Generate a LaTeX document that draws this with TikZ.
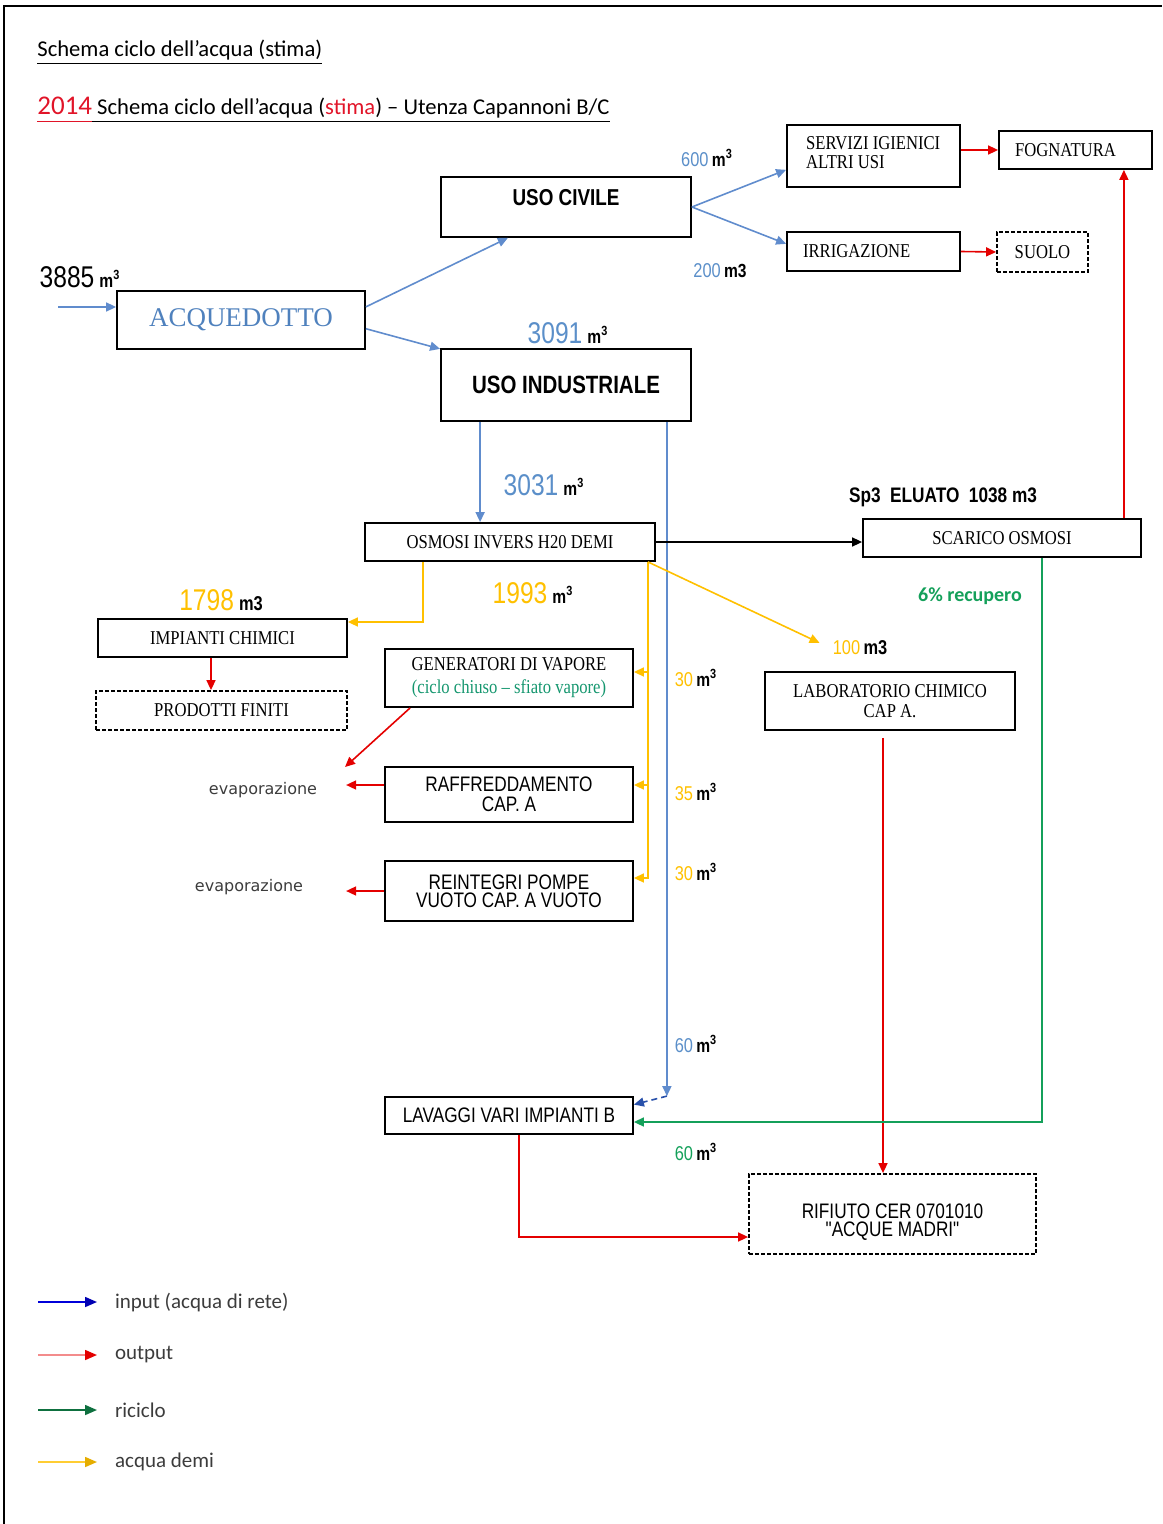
\documentclass[tikz,border=0pt]{standalone}
\usepackage{fontspec}
\setmainfont{Liberation Serif}
\newfontfamily\calib{Carlito}
\newfontfamily\narrow[FakeStretch=0.82]{Liberation Sans}
\newfontfamily\serifbox[FakeStretch=0.85]{Liberation Serif}
\newfontfamily\dejav{DejaVu Sans}
\usetikzlibrary{arrows.meta,positioning}

\definecolor{pipeblue}{RGB}{96,140,205}
\definecolor{numblue}{RGB}{91,143,201}
\definecolor{acqblue}{RGB}{79,129,189}
\definecolor{darkblue}{RGB}{40,80,170}
\definecolor{outred}{RGB}{228,0,0}
\definecolor{recgreen}{RGB}{20,160,90}
\definecolor{gengreen}{RGB}{20,150,110}
\definecolor{demiyellow}{RGB}{255,192,0}
\definecolor{titred}{RGB}{225,20,40}
\definecolor{evgray}{RGB}{60,60,60}

\newcommand{\mcube}{\textbf{m}\textsuperscript{\textbf{3}}}
\newcommand{\flowq}[3]{\textcolor{#1}{#2}\,{\fontsize{9.5}{9.5}\selectfont\bfseries #3}}
\newcommand{\tul}[1]{\underline{#1\vphantom{(}}}

\tikzset{
  box/.style={draw, line width=0.9pt, inner sep=2pt},
  dbox/.style={draw, line width=0.9pt, dash pattern=on 2pt off 1pt, inner sep=2pt},
  sertxt/.style={font=\serifbox\fontsize{9.8}{10}\selectfont},
  nartxt/.style={font=\narrow\fontsize{10.5}{10}\selectfont},
  nartight/.style={font=\narrow\fontsize{10.5}{9}\selectfont},
  boldnar/.style={font=\narrow\bfseries\fontsize{11.5}{12}\selectfont},
  bigq/.style={font=\narrow\fontsize{15}{16}\selectfont, inner sep=1pt},
  smallq/.style={font=\narrow\fontsize{10}{10}\selectfont, inner sep=1pt},
  evtxt/.style={font=\dejav\fontsize{8}{9}\selectfont, text=evgray},
  legtxt/.style={font=\calib\fontsize{10.5}{12}\selectfont, text=evgray},
  tittxt/.style={font=\calib\fontsize{11.3}{13}\selectfont, inner sep=0pt, anchor=base west},
  flow/.style={line width=0.8pt, -{Triangle[length=5pt,width=4.5pt]}},
  inflow/.style={flow, draw=pipeblue},
  outflow/.style={flow, draw=outred},
  recflow/.style={flow, draw=recgreen},
  demiflow/.style={flow, draw=demiyellow},
  blackflow/.style={flow, draw=black}
}

\begin{document}
\begin{tikzpicture}[x=0.5pt,y=-0.5pt]
  \useasboundingbox (0,0) rectangle (1162,1524);
  \draw[line width=0.7pt] (4,1524) -- (4,6) -- (1162,6);

  % titoli
  \node[tittxt] (tit1) at (37,57) {\underline{Schema ciclo dell’acqua (stima)}};
  \node[tittxt] (tit2) at (37,115) {\textcolor{titred}{\tul{\fontsize{13.5}{14}\selectfont 2014}}\tul{ Schema ciclo dell’acqua (}\tul{\textcolor{titred}{stima}}\tul{) – Utenza Capannoni B/C}};

  % blocchi
  \node[box, minimum width=124pt, minimum height=29pt, font=\fontsize{13.5}{14}\selectfont, text=acqblue] (acq) at (241,320) {ACQUEDOTTO};
  \node[box, minimum width=125pt, minimum height=30pt] (civ) at (566,207) {};
  \node[boldnar, below=3pt of civ.north] (civtxt) {USO CIVILE};
  \node[box, minimum width=125pt, minimum height=36pt, font=\narrow\bfseries\fontsize{12.5}{13}\selectfont] (ind) at (566,385) {USO INDUSTRIALE};
  \node[box, minimum width=86.5pt, minimum height=31pt] (serv) at (873.5,156) {};
  \node[anchor=north west, align=left, font=\serifbox\fontsize{9.8}{9.5}\selectfont] (servtxt) at (799,129) {SERVIZI IGIENICI\\ALTRI USI};
  \node[box, minimum width=76.5pt, minimum height=19pt, sertxt, text width=60.5pt, inner xsep=8pt, align=left] (fogn) at (1075.5,150) {FOGNATURA};
  \node[box, minimum width=86.5pt, minimum height=19.5pt, sertxt, text width=70.5pt, inner xsep=8pt, align=left] (irr) at (873.5,251.5) {IRRIGAZIONE};
  \node[dbox, minimum width=45.5pt, minimum height=20pt, sertxt] (suolo) at (1042.5,252) {SUOLO};
  \node[box, minimum width=145pt, minimum height=19pt, sertxt] (osm) at (510,542) {OSMOSI INVERS H20 DEMI};
  \node[box, minimum width=139pt, minimum height=19pt, sertxt] (scar) at (1002,538) {SCARICO OSMOSI};
  \node[box, minimum width=124.5pt, minimum height=19pt, sertxt] (imp) at (222.5,638) {IMPIANTI CHIMICI};
  \node[dbox, minimum width=125.5pt, minimum height=19.5pt, sertxt] (prod) at (221.5,710.5) {PRODOTTI FINITI};
  \node[box, minimum width=124pt, minimum height=29pt, font=\serifbox\fontsize{9.8}{11.5}\selectfont, align=center] (gen) at (509,678) {GENERATORI DI VAPORE\\\textcolor{gengreen}{(ciclo chiuso – sfiato vapore)}};
  \node[box, minimum width=124pt, minimum height=27.5pt, nartxt, align=center] (raf) at (509,794.5) {RAFFREDDAMENTO\\CAP. A};
  \node[box, minimum width=124pt, minimum height=30pt, nartight, align=center] (rei) at (509,891) {REINTEGRI POMPE\\VUOTO CAP. A VUOTO};
  \node[box, minimum width=125pt, minimum height=29pt, sertxt, align=center] (lab) at (890,701) {LABORATORIO CHIMICO\\CAP A.};
  \node[box, minimum width=124pt, minimum height=18.5pt, nartxt] (lav) at (509,1115.5) {LAVAGGI VARI IMPIANTI B};
  \node[dbox, minimum width=143.5pt, minimum height=40pt] (rif) at (892.5,1214) {};
  \node[nartight, align=center, yshift=-4pt] (riftxt) at (rif) {RIFIUTO CER 0701010\\\symbol{34}ACQUE MADRI\symbol{34}};

  % quantita
  \node[bigq] (q3885) at (80,277) {\flowq{black}{3885}{\mcube}};
  \node[smallq] (q600) at (707,158) {\flowq{numblue}{600}{\mcube}};
  \node[smallq] (q200) at (720,271) {\flowq{numblue}{200}{m3}};
  \node[bigq] (q3091) at (568,333) {\flowq{numblue}{3091}{\mcube}};
  \node[bigq] (q3031) at (544,485) {\flowq{numblue}{3031}{\mcube}};
  \node[font=\narrow\bfseries\fontsize{10.5}{11}\selectfont] (qsp3) at (943,497) {Sp3\ \ ELUATO\ \ 1038 m3};
  \node[bigq] (q1798) at (221,600) {\flowq{demiyellow}{1798}{\fontsize{10}{10}\selectfont m3}};
  \node[bigq] (q1993) at (533,593) {\flowq{demiyellow}{1993}{\mcube}};
  \node[smallq] (q100) at (860,648) {\flowq{demiyellow}{100}{\fontsize{10}{10}\selectfont m3}};
  \node[smallq] (q30a) at (696,678) {\flowq{demiyellow}{30}{\mcube}};
  \node[smallq] (q35) at (696,792) {\flowq{demiyellow}{35}{\mcube}};
  \node[smallq] (q30b) at (696,872) {\flowq{demiyellow}{30}{\mcube}};
  \node[font=\calib\bfseries\fontsize{10}{12}\selectfont, text=recgreen] (qrec) at (970,596) {6\% recupero};
  \node[smallq] (q60b) at (696,1044) {\flowq{numblue}{60}{\mcube}};
  \node[smallq] (q60g) at (696,1152) {\flowq{recgreen}{60}{\mcube}};
  \node[evtxt] (ev1) at (263,790) {evaporazione};
  \node[evtxt] (ev2) at (249,887) {evaporazione};

  % acqua di rete
  \coordinate (src) at (58,307);
  \draw[inflow] (src) -- (src -| acq.west);
  \draw[inflow] (acq.6) -- (civ.208);
  \draw[inflow] (acq.-4) -- (ind.164);
  \draw[inflow] (civ.east) -- (serv.189);
  \draw[inflow] (civ.east) -- (irr.175);
  \coordinate (i1) at ([xshift=20pt]ind.south west);
  \draw[inflow] (i1) -- (i1 |- osm.north);
  \coordinate (i2) at ([xshift=-12.5pt]ind.south east);
  \coordinate (i3) at (i2 |- lav.north);
  \draw[inflow] (i2) -- (i3);
  \draw[inflow, densely dashed, draw=darkblue] (i3) -- (lav.5);

  % scarichi
  \draw[outflow] (fogn.west -| serv.east) -- (fogn.west);
  \draw[outflow] (irr.east) -- (suolo.west);
  \coordinate (sc1) at ([xshift=-9pt]scar.north east);
  \draw[outflow] (sc1) -- (sc1 |- fogn.south);
  \coordinate (o1) at ([xshift=-5.75pt]imp.south);
  \draw[outflow] (o1) -- (o1 |- prod.north);
  \coordinate (evtip) at (345,767);
  \draw[outflow] ([xshift=13pt]gen.south west) -- (evtip);
  \coordinate (o2) at ([yshift=4.75pt]raf.west);
  \draw[outflow, shorten >=11pt] (o2) -- (o2 -| ev1.east);
  \draw[outflow, shorten >=18pt] (rei.west) -- (rei.west -| ev2.east);
  \coordinate (o3) at ([xshift=-3.5pt,yshift=-3.5pt]lab.south);
  \draw[outflow] (o3) -- (o3 |- rif.north);
  \coordinate (o4) at ([xshift=5pt]lav.south);
  \draw[outflow] (o4) |- ([yshift=-11.5pt]rif.west);

  % osmosi e acqua demi
  \draw[blackflow] (osm.east) -- (osm.east -| scar.west);
  \coordinate (r1) at ([xshift=20pt]scar.south);
  \draw[recflow] (r1) |- ([yshift=-3.25pt]lav.east);
  \coordinate (d1) at ([xshift=29.5pt]osm.south west);
  \draw[demiflow] (d1) |- ([yshift=8pt]imp.east);
  \coordinate (dm) at ([xshift=-4pt]osm.south east);
  \draw[demiflow] (dm) |- ([yshift=6.5pt]rei.east);
  \foreach \n/\s in {gen/3pt, raf/4.75pt} {
    \coordinate (t\n) at ([yshift=\s]\n.east);
    \draw[demiflow] (t\n -| dm) -- (t\n);
  }
  \draw[demiflow, shorten >=6pt] (dm) -- (q100.west);

  % legenda
  \foreach \y/\lc/\tc/\t [count=\i] in {1302/blue!85!black/blue!70!black/input (acqua di rete),
      1355/outred!45/outred/output, 1410/recgreen!70!black/recgreen!70!black/riciclo,
      1462/demiyellow!80/demiyellow!90!black/acqua demi} {
    \coordinate (ls\i) at (38,\y);
    \node[legtxt, anchor=west] (lt\i) at (108,\y) {\t};
    \draw[line width=0.8pt, draw=\lc, -{Triangle[length=6pt,width=5pt,color=\tc]}, shorten >=5.5pt] (ls\i) -- (lt\i.west);
  }
\end{tikzpicture}
\end{document}
